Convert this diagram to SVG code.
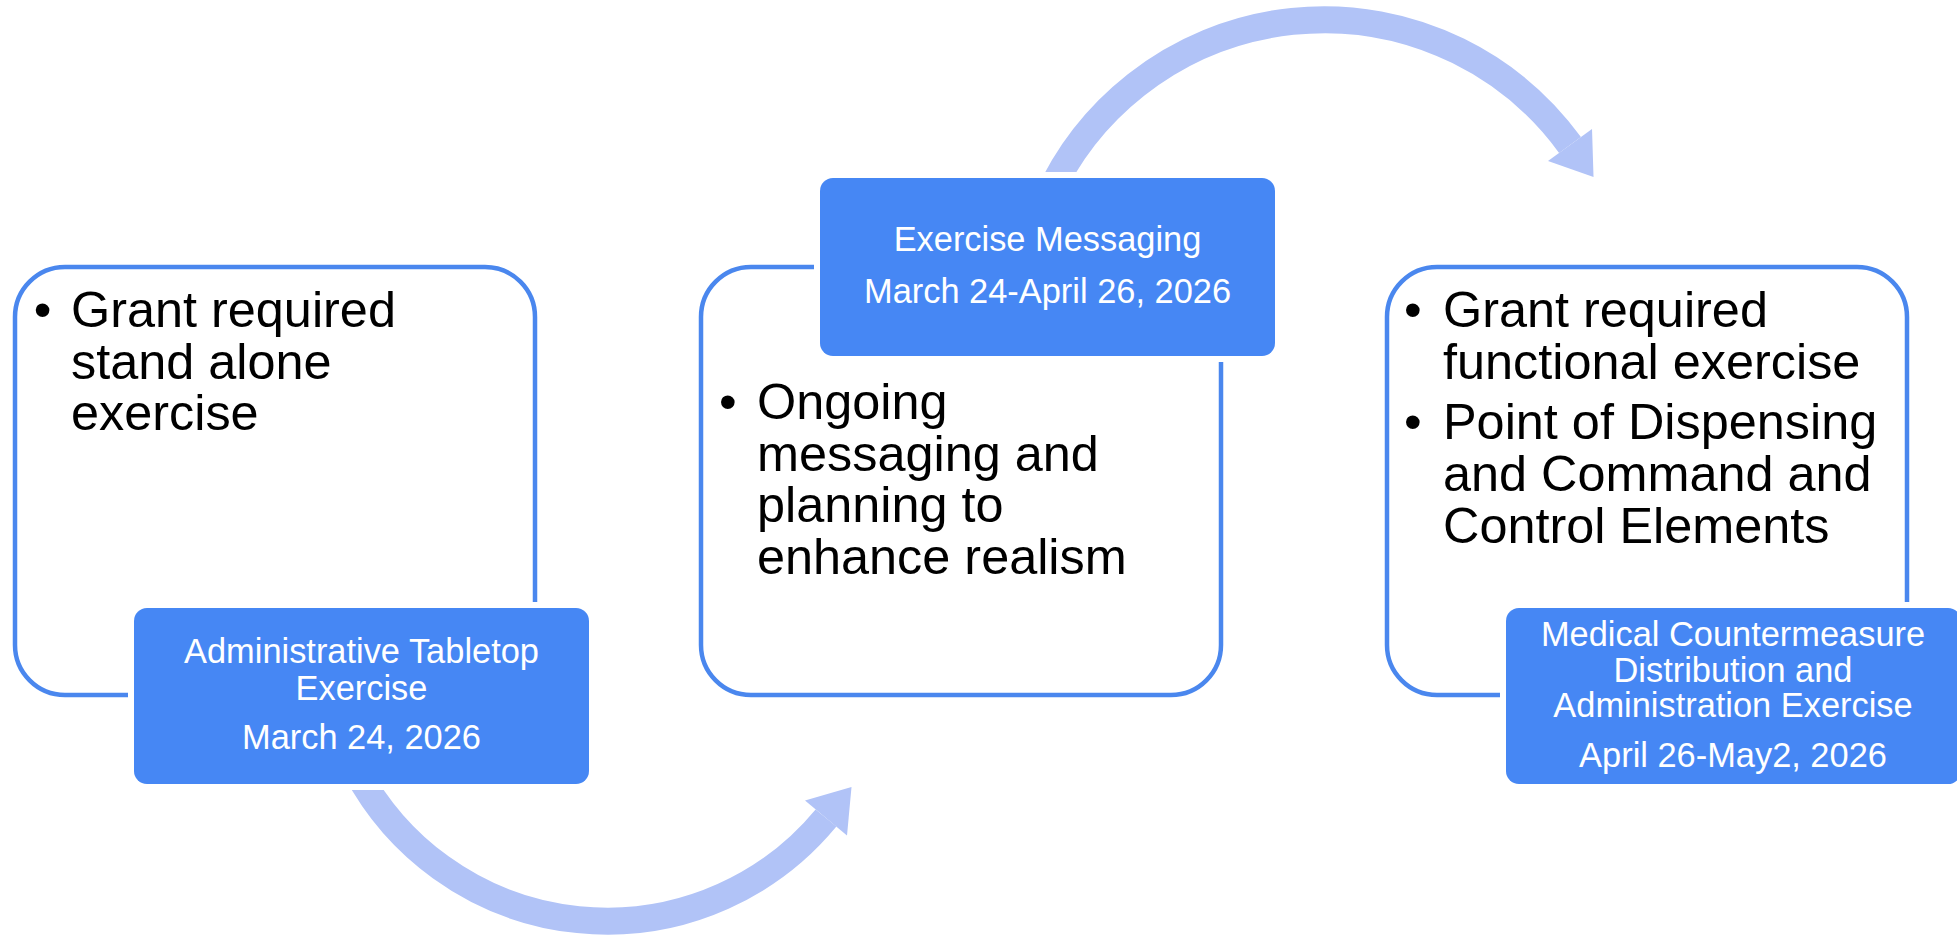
<svg xmlns="http://www.w3.org/2000/svg" width="1957" height="937" viewBox="0 0 1957 937">
<defs>
<style>
.outline{fill:#ffffff;stroke:#4a87ee;stroke-width:4.5}
.halo{fill:#ffffff}
.label{fill:#4687f4}
.body{font-family:"Liberation Sans",Arial,sans-serif;font-size:50.4px;fill:#000000}
.lbl{font-family:"Liberation Sans",Arial,sans-serif;font-size:34.4px;fill:#ffffff;text-anchor:middle}
.arc{fill:none;stroke:#b1c3f7;stroke-width:27}
.head{fill:#b1c3f7}
</style>
</defs>
<rect width="1957" height="937" fill="#ffffff"/>
<g id="connectors">
<path class="arc" d="M 1046.4,200 A 304 304 0 0 1 1570,145"/>
<polygon class="head" points="1593.5,177 1592,129 1548,161"/>
<path class="arc" d="M 356,770 A 284 284 0 0 0 826,818"/>
<polygon class="head" points="851.5,787 847,835.5 805,800.5"/>
</g>
<g id="node1">
<rect class="outline" x="15" y="267" width="520" height="428" rx="50"/>
<text class="body" y="327"><tspan x="33.7">•</tspan><tspan x="71">Grant required</tspan><tspan x="71" y="378.5">stand alone</tspan><tspan x="71" y="430">exercise</tspan></text>
</g>
<g id="label1">
<rect class="halo" x="128" y="602" width="467" height="188" rx="18"/>
<rect class="label" x="134" y="608" width="455" height="176" rx="13"/>
<text class="lbl" x="361.5" y="663">Administrative Tabletop</text>
<text class="lbl" x="361.5" y="700">Exercise</text>
<text class="lbl" x="361.5" y="749">March 24, 2026</text>
</g>
<g id="node2">
<rect class="outline" x="701" y="267" width="520" height="428" rx="50"/>
<text class="body" y="419"><tspan x="719">•</tspan><tspan x="757">Ongoing</tspan><tspan x="757" y="470.5">messaging and</tspan><tspan x="757" y="522">planning to</tspan><tspan x="757" y="573.5">enhance realism</tspan></text>
</g>
<g id="label2">
<rect class="halo" x="814" y="172" width="467" height="190" rx="18"/>
<rect class="label" x="820" y="178" width="455" height="178" rx="13"/>
<text class="lbl" x="1047.5" y="251">Exercise Messaging</text>
<text class="lbl" x="1047.5" y="303">March 24-April 26, 2026</text>
</g>
<g id="node3">
<rect class="outline" x="1387" y="267" width="520" height="428" rx="50"/>
<text class="body" y="327"><tspan x="1404">•</tspan><tspan x="1443">Grant required</tspan><tspan x="1443" y="378.5">functional exercise</tspan></text>
<text class="body" y="439"><tspan x="1404">•</tspan><tspan x="1443">Point of Dispensing</tspan><tspan x="1443" y="491">and Command and</tspan><tspan x="1443" y="542.5">Control Elements</tspan></text>
</g>
<g id="label3">
<rect class="halo" x="1500" y="602" width="467" height="188" rx="18"/>
<rect class="label" x="1506" y="608" width="455" height="176" rx="13"/>
<text class="lbl" x="1733" y="646">Medical Countermeasure</text>
<text class="lbl" x="1733" y="682">Distribution and</text>
<text class="lbl" x="1733" y="717">Administration Exercise</text>
<text class="lbl" x="1733" y="767">April 26-May2, 2026</text>
</g>
</svg>
